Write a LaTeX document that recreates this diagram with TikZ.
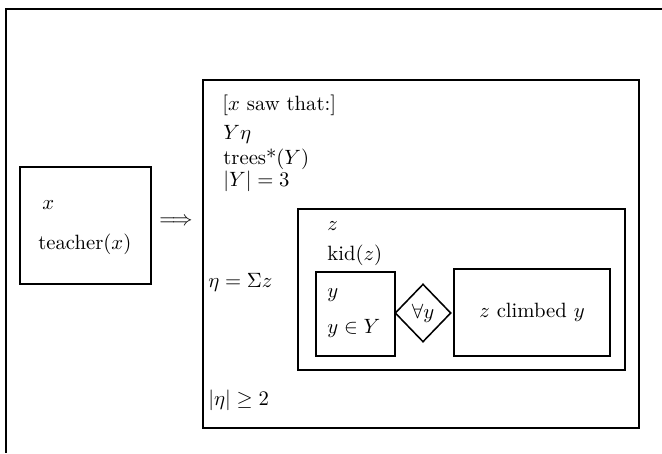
\documentclass[tikz,border=0pt]{standalone}
\usetikzlibrary{fit,shapes.geometric}
\begin{document}
\begin{tikzpicture}[x=0.4833pt,y=-0.4833pt,
  box/.style={draw, line width=0.75pt, inner sep=0pt},
  txt/.style={anchor=base west, inner sep=0pt},
  diam/.style={draw, diamond, line width=0.75pt, inner sep=0pt, minimum width=56*0.4833pt, minimum height=58*0.4833pt}]
\useasboundingbox (0,0) rectangle (662,453);
% outer frame (top and left edges only)
\draw[line width=0.9pt] (662,9) -- (6,9) -- (6,453);
% left box
\node[box, fit={(20,167) (151,284)}] (L) {};
\node[txt] (lx) at (42,209) {$x$};
\node[txt] (lt) at (38,249) {teacher$(x)$};
\node (imp) at (176,222) {$\Longrightarrow$};
% main box
\node[box, fit={(203,80) (639,428)}] (M) {};
\node[txt] (saw) at (222,110) {[$x$ saw that:]};
\node[txt] (ye) at (223,139) {$Y\eta$};
\node[txt] (tr) at (223,164) {trees*$(Y)$};
\node[txt] (card) at (223,186) {$|Y|=3$};
\node[txt] (sum) at (208,287) {$\eta=\Sigma z$};
\node[txt] (ge) at (208,405) {$|\eta|\geq 2$};
% z box
\node[box, fit={(298,209) (625,370)}] (Z) {};
\node[txt] (zz) at (327,230) {$z$};
\node[txt] (kid) at (327,260) {kid$(z)$};
% y box
\node[box, fit={(316,272) (395,356)}] (Yb) {};
\node[txt] (yy) at (327,297) {$y$};
\node[txt] (yin) at (327,333) {$y\in Y$};
% diamond
\node[diam] (D) at (423,313) {$\forall y$};
% climbed box
\node[box, fit={(454,269) (610,356)}] (C) {};
\node (cl) at (C.center) {$z$ climbed $y$};
\end{tikzpicture}
\end{document}
